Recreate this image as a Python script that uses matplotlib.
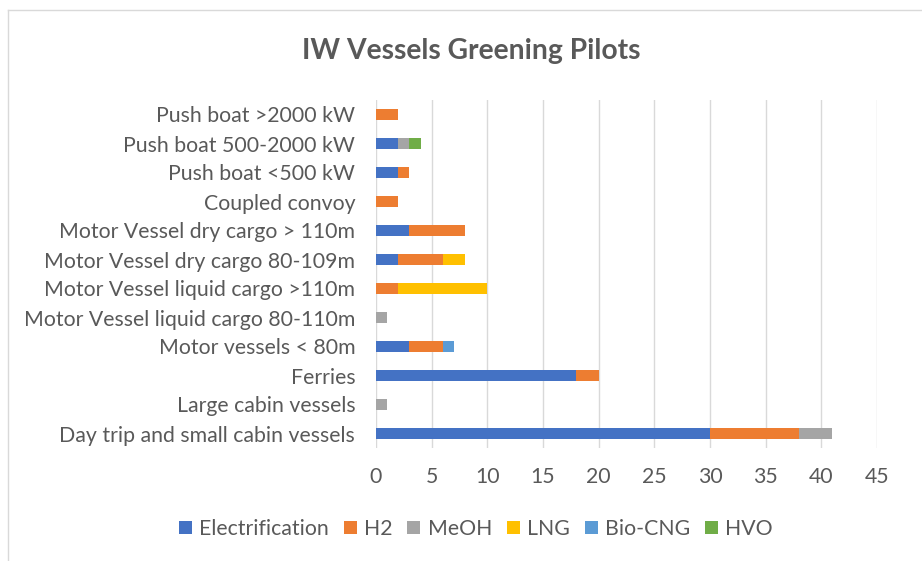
import numpy as np
import matplotlib
matplotlib.use("Agg")
import matplotlib.pyplot as plt

# categories listed bottom to top (as drawn on the y axis)
categories = [
    "Day trip and small cabin vessels",
    "Large cabin vessels",
    "Ferries",
    "Motor vessels < 80m",
    "Motor Vessel liquid cargo 80-110m",
    "Motor Vessel liquid cargo >110m",
    "Motor Vessel dry cargo 80-109m",
    "Motor Vessel dry cargo > 110m",
    "Coupled convoy",
    "Push boat <500 kW",
    "Push boat 500-2000 kW",
    "Push boat >2000 kW",
]

electrification = [30, 0, 18, 3, 0, 0, 2, 3, 0, 2, 2, 0]
h2 = [8, 0, 2, 3, 0, 2, 4, 5, 2, 1, 0, 2]
meoh = [3, 1, 0, 0, 1, 0, 0, 0, 0, 0, 1, 0]
lng = [0, 0, 0, 0, 0, 8, 2, 0, 0, 0, 0, 0]
bio_cng = [0, 0, 0, 1, 0, 0, 0, 0, 0, 0, 0, 0]
hvo = [0, 0, 0, 0, 0, 0, 0, 0, 0, 0, 1, 0]

series = [
    ("Electrification", electrification, "#4472C4"),
    ("H2", h2, "#ED7D31"),
    ("MeOH", meoh, "#A5A5A5"),
    ("LNG", lng, "#FFC000"),
    ("Bio-CNG", bio_cng, "#5B9BD5"),
    ("HVO", hvo, "#70AD47"),
]

plt.rcParams['font.family'] = ['Lato', 'DejaVu Sans']
text_col = "#595959"

fig = plt.figure(figsize=(9.22, 5.61), dpi=100)
ax = fig.add_axes([376 / 922, 1 - 448 / 561, (877 - 376) / 922, (448 - 100) / 561])

y = np.arange(len(categories))
left = np.zeros(len(categories))
for name, vals, col in series:
    vals = np.array(vals, dtype=float)
    ax.barh(y, vals, left=left, height=0.4, color=col, label=name, zorder=3)
    left += vals

ax.set_xlim(0, 45)
ax.set_ylim(-0.5, len(categories) - 0.5)
ax.set_xticks(range(0, 46, 5))
ax.set_yticks(y)
ax.set_yticklabels(categories)
ax.tick_params(axis='both', length=0, labelsize=15.3, colors=text_col)
ax.tick_params(axis='x', pad=14)
ax.tick_params(axis='y', pad=15)
for s in ax.spines.values():
    s.set_visible(False)
ax.grid(axis='x', color="#d9d9d9", linewidth=1, zorder=0)

fig.text(471 / 922, 1 - 51 / 561, "IW Vessels Greening Pilots", ha='center', va='center',
         fontsize=20.3, fontweight='bold', color=text_col)

leg = fig.legend(loc='center', bbox_to_anchor=(476 / 922, 1 - 529 / 561), ncol=6, frameon=False,
                 fontsize=15.3, handlelength=0.6, handleheight=0.6, handletextpad=0.35,
                 columnspacing=0.7)
for t in leg.get_texts():
    t.set_color(text_col)

# chart border (only top and left edges are visible in the crop)
fig.add_artist(plt.Line2D([8 / 922, 8 / 922], [0, 1 - 10 / 561], color="#d9d9d9", lw=1))
fig.add_artist(plt.Line2D([8 / 922, 1], [1 - 10 / 561, 1 - 10 / 561], color="#d9d9d9", lw=1))

plt.savefig("out.png")
